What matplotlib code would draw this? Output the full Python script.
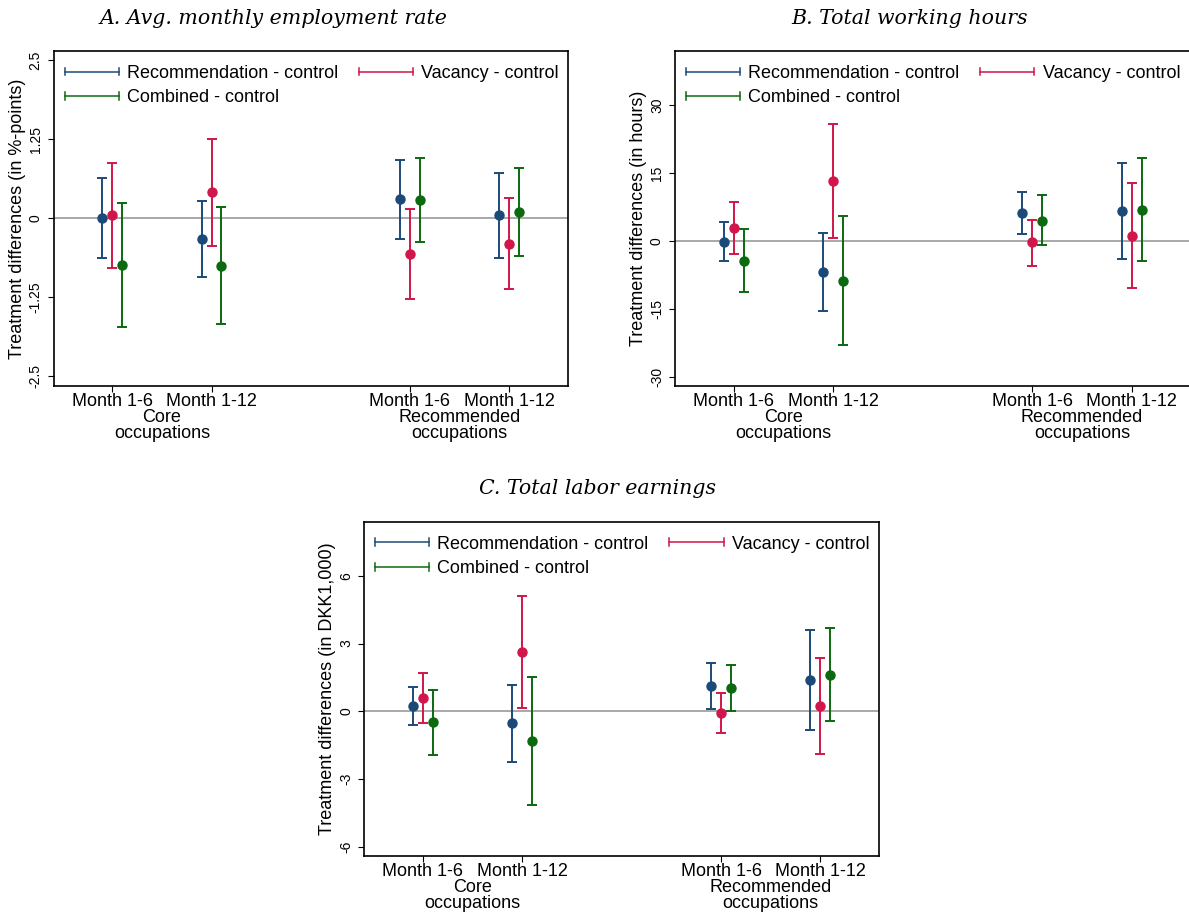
import numpy as np
import matplotlib
matplotlib.use('Agg')
import matplotlib.pyplot as plt
from matplotlib.lines import Line2D
from matplotlib.legend_handler import HandlerBase

plt.rcParams['font.family'] = 'Liberation Sans'

# data (point estimates and 95% CI ends), order: core 1-6, core 1-12, rec 1-6, rec 1-12
periods = ['Month 1-6', 'Month 1-12', 'Month 1-6', 'Month 1-12']
groups = ['Core\noccupations', 'Recommended\noccupations']
series = ['Recommendation - control', 'Vacancy - control', 'Combined - control']

# A. employment rate
a_rec = [0.00, -0.33, 0.31, 0.05]
a_rec_lo = [-0.63, -0.93, -0.32, -0.63]
a_rec_hi = [0.64, 0.27, 0.93, 0.72]
a_vac = [0.05, 0.41, -0.56, -0.41]
a_vac_lo = [-0.79, -0.44, -1.27, -1.12]
a_vac_hi = [0.88, 1.26, 0.15, 0.32]
a_comb = [-0.74, -0.75, 0.29, 0.10]
a_comb_lo = [-1.72, -1.67, -0.37, -0.59]
a_comb_hi = [0.25, 0.18, 0.96, 0.79]

# B. working hours
b_rec = [-0.15, -6.8, 6.2, 6.6]
b_rec_lo = [-4.4, -15.5, 1.5, -4.0]
b_rec_hi = [4.3, 1.85, 10.9, 17.2]
b_vac = [2.8, 13.2, -0.3, 1.1]
b_vac_lo = [-2.95, 0.6, -5.5, -10.5]
b_vac_hi = [8.6, 25.8, 4.7, 12.9]
b_comb = [-4.35, -8.8, 4.5, 6.9]
b_comb_lo = [-11.3, -23.0, -1.0, -4.35]
b_comb_hi = [2.7, 5.5, 10.1, 18.45]

# C. labor earnings
c_rec = [0.24, -0.53, 1.14, 1.37]
c_rec_lo = [-0.60, -2.24, 0.10, -0.84]
c_rec_hi = [1.09, 1.18, 2.15, 3.61]
c_vac = [0.59, 2.64, -0.07, 0.22]
c_vac_lo = [-0.52, 0.16, -0.96, -1.90]
c_vac_hi = [1.71, 5.10, 0.81, 2.37]
c_comb = [-0.49, -1.33, 1.02, 1.61]
c_comb_lo = [-1.95, -4.16, 0.01, -0.44]
c_comb_hi = [0.96, 1.50, 2.04, 3.69]

a_ticks = [-2.5, -1.25, 0, 1.25, 2.5]
a_ticklabels = ['-2.5', '-1.25', '0', '1.25', '2.5']
b_ticks = [-30, -15, 0, 15, 30]
b_ticklabels = ['-30', '-15', '0', '15', '30']
c_ticks = [-6, -3, 0, 3, 6]
c_ticklabels = ['-6', '-3', '0', '3', '6']

colors = ['#1c4a78', '#d0164a', '#0b690f']

W, H = 1189, 915


class CapLineHandler(HandlerBase):
    # legend key like stata: horizontal line with caps
    def create_artists(self, legend, orig_handle, xdescent, ydescent,
                       width, height, fontsize, trans):
        c = orig_handle.get_color()
        y = height / 2 - ydescent
        x0, x1 = -xdescent, -xdescent + width
        h = height * 0.3
        arts = [Line2D([x0, x1], [y, y], color=c, lw=1.1),
                Line2D([x0, x0], [y - h, y + h], color=c, lw=1.1),
                Line2D([x1, x1], [y - h, y + h], color=c, lw=1.1)]
        for a in arts:
            a.set_transform(trans)
        return arts


def rect(l, t, r, b):
    return [l / W, 1 - b / H, (r - l) / W, (b - t) / H]


def panel(ax, est, lo, hi, ylim, ticks, ticklabels, ylabel):
    xpos = np.array([0, 1, 3, 4]) + 1.0
    offs = [-0.1, 0, 0.1]
    ax.axhline(0, color='#9a9a9a', lw=1.2, zorder=1)
    for i in range(3):
        e = np.array(est[i])
        err = np.vstack([e - np.array(lo[i]), np.array(hi[i]) - e])
        ax.errorbar(xpos + offs[i], e, yerr=err, fmt='o', color=colors[i],
                    ms=6.5, elinewidth=1.4, capsize=3.5, capthick=1.4, zorder=3)
    ax.set_xlim(0.41, 5.59)
    ax.set_ylim(*ylim)
    ax.set_xticks(xpos)
    ax.set_xticklabels(periods, fontsize=13)
    ax.set_yticks(ticks)
    ax.set_yticklabels(ticklabels, fontsize=10, rotation=90, va='center')
    ax.tick_params(axis='x', length=4, pad=1)
    ax.tick_params(axis='y', length=4, pad=4)
    ax.set_ylabel(ylabel, fontsize=13, labelpad=2)
    for s in ax.spines.values():
        s.set_linewidth(1.2)
    for gx, g in zip([1.5, 4.5], groups):
        ax.annotate(g, xy=(gx, 0), xycoords=('data', 'axes fraction'),
                    xytext=(0, -16.5), textcoords='offset points',
                    ha='center', va='top', fontsize=13, linespacing=0.95)
    handles = [Line2D([], [], color=colors[0]), Line2D([], [], color=colors[2]),
               Line2D([], [], color=colors[1])]
    labels = [series[0], series[2], series[1]]
    ax.legend(handles, labels, handler_map={Line2D: CapLineHandler()},
              loc='upper left', bbox_to_anchor=(0, 0.991), ncol=2,
              frameon=False, fontsize=13,
              handlelength=3.0, handletextpad=0.45, columnspacing=1.15,
              labelspacing=0.42, borderpad=0.4, borderaxespad=0.2)


fig = plt.figure(figsize=(W / 100, H / 100), dpi=100)

axA = fig.add_axes(rect(53.8, 51, 567.6, 385.7))
panel(axA, [a_rec, a_vac, a_comb], [a_rec_lo, a_vac_lo, a_comb_lo],
      [a_rec_hi, a_vac_hi, a_comb_hi], (-2.65, 2.65), a_ticks, a_ticklabels,
      'Treatment differences (in %-points)')

axB = fig.add_axes(rect(675.1, 51, 1190.5, 385.7))
panel(axB, [b_rec, b_vac, b_comb], [b_rec_lo, b_vac_lo, b_comb_lo],
      [b_rec_hi, b_vac_hi, b_comb_hi], (-32, 42), b_ticks, b_ticklabels,
      'Treatment differences (in hours)')

axC = fig.add_axes(rect(364.3, 521.7, 879, 855.7))
panel(axC, [c_rec, c_vac, c_comb], [c_rec_lo, c_vac_lo, c_comb_lo],
      [c_rec_hi, c_vac_hi, c_comb_hi], (-6.4, 8.4), c_ticks, c_ticklabels,
      'Treatment differences (in DKK1,000)')

tfont = dict(family='DejaVu Serif', style='italic', fontsize=14.8, ha='center', va='center')
fig.text(274 / W, 1 - 18 / H, 'A. Avg. monthly employment rate', **tfont)
fig.text(910 / W, 1 - 18 / H, 'B. Total working hours', **tfont)
fig.text(598 / W, 1 - 489 / H, 'C. Total labor earnings', **tfont)

fig.savefig('out.png', dpi=100)
